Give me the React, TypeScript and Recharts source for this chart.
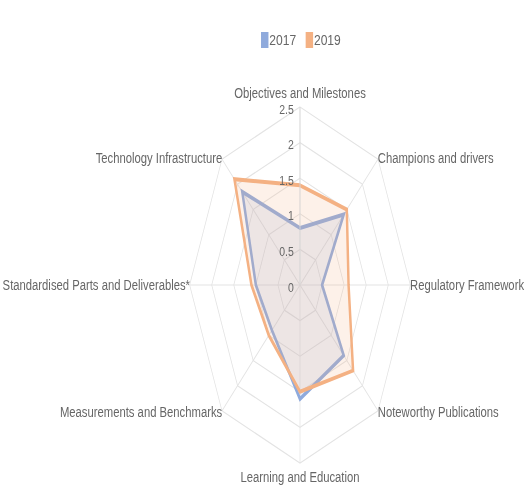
import {
  RadarChart,
  Radar,
  PolarGrid,
  PolarAngleAxis,
  PolarRadiusAxis,
  Legend,
} from "recharts";

const categories = [
  "Objectives and Milestones",
  "Champions and drivers",
  "Regulatory Framework",
  "Noteworthy Publications",
  "Learning and Education",
  "Measurements and Benchmarks",
  "Standardised Parts and Deliverables*",
  "Technology Infrastructure",
];
const values2017 = [0.8, 1.4, 0.5, 1.4, 1.6, 0.9, 1.0, 1.85];
const values2019 = [1.4, 1.5, 1.1, 1.7, 1.5, 1.0, 1.1, 2.1];
const radiusTicks = [0, 0.5, 1, 1.5, 2, 2.5];
const seriesNames = ["2017", "2019"];
const seriesColors = ["#8faadc", "#f4b183"];

// the reference picture is squashed sideways, so the whole chart is squeezed
const SQUEEZE = 0.62;
const TEXT_K = 1.3; // text is squeezed less than the plot
const W = Math.round(529 / SQUEEZE);
const H = 499;
const CX = 300 / SQUEEZE;
const CY = 285;
const R = 178;
const FONT = "'Liberation Sans', Arial, sans-serif";
const TEXT = "#666";

const data = categories.map((name, i) => ({
  name,
  y2017: values2017[i],
  y2019: values2019[i],
}));

function AngleTick(props: any) {
  const { x, y, payload } = props;
  const dx = x - CX;
  const dy = y - CY;
  const len = Math.hypot(dx, dy) || 1;
  const nx = dx / len;
  const ny = dy / len;
  let ly = ny * 180;
  if (Math.abs(ny) > 0.9) ly += Math.sign(ny) * 12;
  const lx = (nx * 110) / SQUEEZE;
  const anchor = nx > 0.1 ? "start" : nx < -0.1 ? "end" : "middle";
  return (
    <g transform={`translate(${CX + lx},${CY + ly}) scale(${TEXT_K},1)`}>
      <text textAnchor={anchor} dy="0.35em" fontSize={14} fill={TEXT} fontFamily={FONT}>
        {payload.value}
      </text>
    </g>
  );
}

function RadiusTick(props: any) {
  const { x, y, payload } = props;
  return (
    <g transform={`translate(${x - 10},${y + 2}) scale(${TEXT_K},1)`}>
      <text textAnchor="end" dy="0.35em" fontSize={13} fill={TEXT} fontFamily={FONT}>
        {payload.value}
      </text>
    </g>
  );
}

function LegendContent(props: any) {
  const items = props.payload || [];
  return (
    <div style={{ display: "flex", justifyContent: "center", alignItems: "center" }}>
      {items.map((entry: any, i: number) => (
        <div key={entry.value} style={{ display: "flex", alignItems: "center", marginLeft: i ? 10 : 0 }}>
          <div style={{ width: 12, height: 16, background: seriesColors[i] }} />
          <div style={{ width: 50, height: 18, overflow: "visible" }}>
            <span
              style={{
                display: "inline-block",
                transform: `scaleX(${TEXT_K})`,
                transformOrigin: "0 50%",
                fontSize: 15,
                lineHeight: "18px",
                color: TEXT,
                fontFamily: FONT,
                paddingLeft: 1,
              }}
            >
              {entry.value}
            </span>
          </div>
        </div>
      ))}
    </div>
  );
}

export default function App() {
  return (
    <div
      style={{
        position: "fixed",
        left: 0,
        top: 0,
        width: 529,
        height: 499,
        overflow: "hidden",
        background: "#fff",
      }}
    >
      <div style={{ width: W, height: H, transform: `scaleX(${SQUEEZE})`, transformOrigin: "0 0" }}>
        <RadarChart
          width={W}
          height={H}
          data={data}
          cx={CX}
          cy={CY}
          outerRadius={R}
          margin={{ top: 0, right: 0, bottom: 0, left: 0 }}
        >
          <PolarGrid gridType="polygon" stroke="#e3e3e3" strokeWidth={1.2} />
          <PolarAngleAxis dataKey="name" tick={<AngleTick />} tickLine={false} axisLine={false} />
          <PolarRadiusAxis
            angle={90}
            type="number"
            domain={[0, radiusTicks[radiusTicks.length - 1]]}
            allowDecimals
            allowDataOverflow
            ticks={radiusTicks as any}
            tickCount={radiusTicks.length}
            tick={<RadiusTick />}
            axisLine={{ stroke: "#d9d9d9" }}
          />
          <Radar
            name={seriesNames[0]}
            dataKey="y2017"
            stroke={seriesColors[0]}
            strokeWidth={4}
            fill={seriesColors[0]}
            fillOpacity={0.18}
            isAnimationActive={false}
          />
          <Radar
            name={seriesNames[1]}
            dataKey="y2019"
            stroke={seriesColors[1]}
            strokeWidth={4}
            fill={seriesColors[1]}
            fillOpacity={0.18}
            isAnimationActive={false}
          />
          <Legend
            verticalAlign="top"
            content={<LegendContent />}
            wrapperStyle={{ position: "absolute", top: 31, left: 0, width: 976 }}
          />
        </RadarChart>
      </div>
    </div>
  );
}
